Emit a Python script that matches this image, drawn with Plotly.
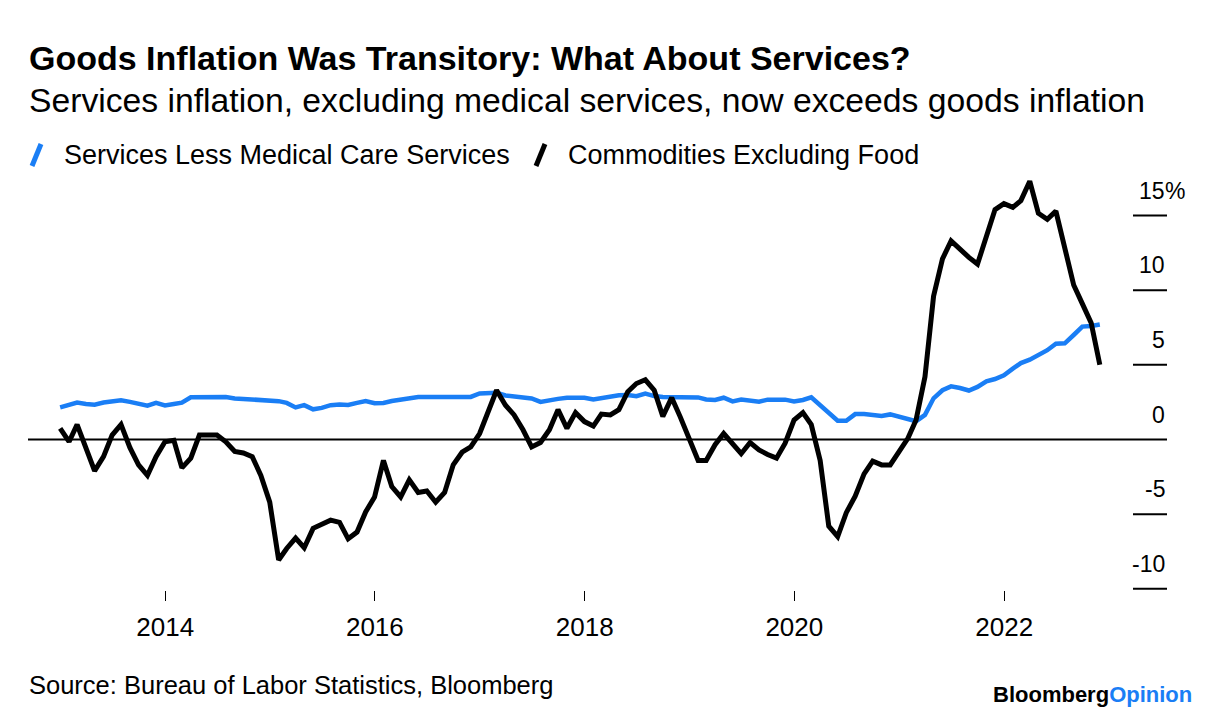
import pandas as pd
import plotly.graph_objects as go

# ---------------- data ----------------
dates = pd.date_range("2012-12-01", periods=120, freq="MS") + pd.offsets.MonthEnd(0)

services = [
    2.15, 2.3, 2.47, 2.38, 2.33, 2.48, 2.55, 2.62, 2.52, 2.4,
    2.27, 2.45, 2.28, 2.38, 2.47, 2.83, 2.85, 2.85, 2.85, 2.85,
    2.75, 2.72, 2.68, 2.67, 2.6, 2.57, 2.45, 2.15, 2.3, 2.02,
    2.12, 2.3, 2.35, 2.31, 2.45, 2.58, 2.43, 2.45, 2.58, 2.68,
    2.72, 2.85, 2.85, 2.85, 2.85, 2.85, 2.8, 2.85, 3.08, 3.1,
    3.13, 2.95, 2.9, 2.87, 2.75, 2.52, 2.65, 2.72, 2.8, 2.8,
    2.8, 2.68, 2.78, 2.9, 2.97, 2.98, 2.9, 3.07, 2.91, 2.85,
    2.84, 2.83, 2.83, 2.82, 2.68, 2.65, 2.8, 2.55, 2.67, 2.62,
    2.53, 2.67, 2.67, 2.67, 2.55, 2.65, 2.83, 2.3, 1.7, 1.26,
    1.25, 1.7, 1.7, 1.6, 1.57, 1.68, 1.52, 1.35, 1.22, 1.65,
    2.76, 3.3, 3.56, 3.45, 3.28, 3.52, 3.9, 4.05, 4.3, 4.75,
    5.12, 5.35, 5.63, 5.98, 6.42, 6.44, 7.0, 7.56, 7.6, 7.7,
]

commodities = [
    0.75, -0.15, 1.0, -0.5, -2.1, -1.15, 0.3, 1.0, -0.55, -1.7,
    -2.4, -1.15, -0.15, -0.05, -1.9, -1.25, 0.3, 0.3, 0.3, -0.15,
    -0.8, -0.9, -1.15, -2.4, -4.2, -8.07, -7.3, -6.6, -7.25, -5.95,
    -5.7, -5.4, -5.55, -6.65, -6.2, -4.85, -3.85, -1.4, -3.15, -3.85,
    -2.7, -3.55, -3.45, -4.2, -3.55, -1.7, -0.85, -0.5, 0.4, 2.0,
    3.3, 2.3, 1.65, 0.65, -0.5, -0.2, 0.65, 2.0, 0.75, 1.8,
    1.2, 0.9, 1.7, 1.65, 2.0, 3.2, 3.75, 4.0, 3.3, 1.55,
    2.8, 1.5, 0.0, -1.4, -1.4, -0.35, 0.4, -0.3, -0.95, -0.2,
    -0.7, -1.0, -1.25, -0.25, 1.3, 1.8, 1.0, -1.4, -5.8, -6.5,
    -4.9, -3.8, -2.3, -1.45, -1.7, -1.7, -0.8, 0.1, 1.3, 4.2,
    9.6, 12.1, 13.3, 12.7, 12.2, 11.75, 13.6, 15.4, 15.8, 15.55,
    16.0, 17.3, 15.15, 14.75, 15.3, 12.9, 10.35, 9.1, 7.8, 5.0,
]

series_names = ["Services Less Medical Care Services", "Commodities Excluding Food"]
series_colors = ["#1a7ef5", "#000000"]
series_widths = [4.5, 5]

y_ticks = [-10, -5, 0, 5, 10, 15]
y_tick_labels = ["-10", "-5", "0", "5", "10", "15"]
x_ticks = ["2014-01-01", "2016-01-01", "2018-01-01", "2020-01-01", "2022-01-01"]
x_tick_labels = ["2014", "2016", "2018", "2020", "2022"]

title = "Goods Inflation Was Transitory: What About Services?"
subtitle = "Services inflation, excluding medical services, now exceeds goods inflation"
source = "Source: Bureau of Labor Statistics, Bloomberg"

# ---------------- layout geometry (screen pixels) ----------------
W, H = 1223, 721
OFF = 8  # default page margin of the html body
PL, PR, PT, PB = 28, 1167, 175, 590
FONT = "Liberation Sans, Arial, sans-serif"


def px_x(p):
    return (p - PL) / (PR - PL)


def px_y(p):
    return (PB - p) / (PB - PT)


fig = go.Figure()
for name, vals, col, lw in zip(series_names, [services, commodities], series_colors, series_widths):
    fig.add_trace(go.Scatter(x=dates, y=vals, mode="lines", name=name,
                             line=dict(color=col, width=lw), showlegend=False,
                             hoverinfo="skip"))

shapes = []
annotations = []

# zero line
shapes.append(dict(type="line", xref="paper", yref="y", x0=0, x1=1, y0=0, y1=0,
                   line=dict(color="black", width=2), layer="below"))
# y tick dashes + labels
for v, lab in zip(y_ticks, y_tick_labels):
    if v != 0:
        shapes.append(dict(type="line", xref="paper", yref="y", x0=px_x(1133), x1=1,
                           y0=v, y1=v, line=dict(color="black", width=2)))
    annotations.append(dict(xref="paper", yref="y", x=1, y=v, text=lab, showarrow=False,
                            xanchor="right", yanchor="middle", yshift=25,
                            font=dict(family=FONT, size=23, color="black")))
annotations.append(dict(xref="paper", yref="y", x=1, y=y_ticks[-1], text="%", showarrow=False,
                        xanchor="left", yanchor="middle", yshift=25, xshift=-4,
                        font=dict(family=FONT, size=23, color="black")))

# legend (slashes + text)
leg_x = [(32, 62), (536, 566)]
for (sx, tx), name, col in zip(leg_x, series_names, series_colors):
    shapes.append(dict(type="line", xref="paper", yref="paper",
                       x0=px_x(sx), x1=px_x(sx + 9), y0=px_y(166), y1=px_y(144),
                       line=dict(color=col, width=5)))
    annotations.append(dict(xref="paper", yref="paper", x=px_x(tx), y=px_y(155), text=name,
                            showarrow=False, xanchor="left", yanchor="middle",
                            font=dict(family=FONT, size=27, color="black")))

# titles
annotations.append(dict(xref="paper", yref="paper", x=px_x(27), y=px_y(58),
                        text="<b>" + title + "</b>", showarrow=False,
                        xanchor="left", yanchor="middle",
                        font=dict(family=FONT, size=34, color="black")))
annotations.append(dict(xref="paper", yref="paper", x=px_x(27), y=px_y(100),
                        text=subtitle, showarrow=False, xanchor="left", yanchor="middle",
                        font=dict(family=FONT, size=33.7, color="black")))
annotations.append(dict(xref="paper", yref="paper", x=px_x(27), y=px_y(685),
                        text=source, showarrow=False, xanchor="left", yanchor="middle",
                        font=dict(family=FONT, size=25.5, color="black")))
annotations.append(dict(xref="paper", yref="paper", x=px_x(1194), y=px_y(694),
                        text="<b>Bloomberg<span style='color:#1a7ef5'>Opinion</span></b>",
                        showarrow=False, xanchor="right", yanchor="middle",
                        font=dict(family=FONT, size=22, color="black")))

fig.update_layout(
    width=W - OFF, height=H - OFF,
    margin=dict(l=PL - OFF, r=W - PR, t=PT - OFF, b=H - PB, pad=0),
    paper_bgcolor="white", plot_bgcolor="white",
    shapes=shapes, annotations=annotations, showlegend=False,
    xaxis=dict(range=["2012-09-10", "2023-07-22"], tickmode="array",
               tickvals=x_ticks, ticktext=x_tick_labels, ticks="outside", ticklen=10,
               tickwidth=1, tickcolor="black", showgrid=False, zeroline=False,
               showline=False, ticklabelstandoff=4,
               tickfont=dict(family=FONT, size=26, color="black")),
    yaxis=dict(range=[-10.08, 17.716], showticklabels=False, showgrid=False,
               zeroline=False, showline=False, ticks=""),
)

fig.write_html("out.html")
